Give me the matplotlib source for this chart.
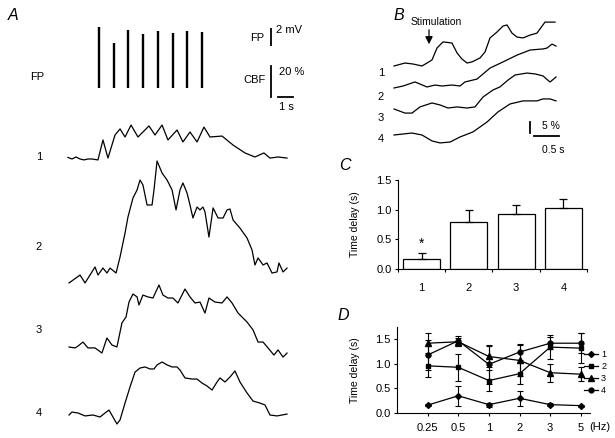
import numpy as np
import matplotlib.pyplot as plt

plt.rcParams['font.family'] = ['Liberation Sans', 'DejaVu Sans']

# ---- panel A: field potential stimuli (mV) and CBF traces (%)
fp_times = [0, 1, 2, 3, 4, 5, 6, 7]
fp_amp = [6.8, 5.0, 6.4, 6.0, 6.3, 6.1, 6.3, 6.2]

a1_t = [-2.11, -1.84, -1.56, -1.29, -1.02, -0.75, -0.48, -0.07, 0.27, 0.61, 1.09, 1.43, 1.77, 2.18, 2.65,
        3.40, 3.81, 4.29, 4.69, 5.31, 5.71, 6.19, 6.67, 7.14, 7.55, 8.37, 9.12, 9.93, 10.61, 11.22, 11.63,
        12.18, 12.79]
a1_v = [1.0, 0.0, 1.3, 0.0, -0.6, 0.0, 0.0, -0.6, 12.3, 0.6, 15.5, 19.4, 14.2, 21.9, 14.2,
        21.3, 15.5, 21.9, 12.3, 18.7, 11.0, 17.4, 11.0, 20.6, 14.2, 14.8, 9.0, 3.9, 1.3, 3.9, 0.6,
        1.3, 0.6]

a2_t = [-2.04, -1.29, -0.95, -0.27, -0.07, 0.27, 0.54, 0.75, 1.16, 1.43, 1.77, 1.97, 2.31, 2.59, 2.79,
        2.99, 3.27, 3.61, 3.74, 3.95, 4.29, 4.63, 4.97, 5.24, 5.51, 5.71, 5.99, 6.19, 6.39, 6.67,
        6.87, 7.07, 7.21, 7.48, 7.76, 8.10, 8.44, 8.71, 8.91, 9.12, 9.59, 10.07, 10.41, 10.61, 10.82,
        11.16, 11.43, 11.77, 12.11, 12.24, 12.52, 12.79]
a2_v = [-1.9, 3.2, -1.9, 8.4, 3.2, 7.7, 4.5, 7.7, 4.5, 14.8, 30.3, 40.6, 52.9, 58.1, 64.5,
        61.3, 48.4, 48.4, 58.1, 76.8, 69.0, 64.5, 58.1, 45.2, 58.1, 62.6, 56.1, 48.4, 40.0, 47.1,
        45.2, 47.1, 43.9, 27.7, 46.5, 40.0, 40.0, 45.2, 45.8, 38.7, 33.5, 27.1, 19.4, 9.7, 14.2,
        9.7, 11.0, 4.5, 5.2, 11.0, 5.2, 7.7]

a3_t = [-2.04, -1.63, -1.43, -1.09, -0.75, -0.27, 0.20, 0.54, 0.88, 1.22, 1.56, 1.84, 2.04, 2.31, 2.59,
        2.72, 2.99, 3.33, 3.67, 4.08, 4.35, 4.69, 5.03, 5.37, 5.85, 6.19, 6.53, 6.87, 7.21, 7.48,
        7.89, 8.37, 8.71, 9.05, 9.46, 10.07, 10.48, 10.82, 11.16, 11.50, 11.90, 12.18, 12.52, 12.79]
a3_v = [0.0, -0.6, 0.6, 3.2, -0.6, -0.6, -3.9, 5.8, 1.3, 0.0, 15.5, 19.4, 29.0, 34.2, 32.3,
        27.1, 33.5, 32.3, 31.6, 40.0, 33.5, 31.6, 31.6, 28.4, 37.4, 32.3, 28.4, 29.0, 21.9, 31.6,
        29.0, 28.4, 32.3, 28.4, 21.9, 16.1, 11.0, 3.2, 3.2, -0.6, -5.2, -1.9, -6.5, -3.9]

a4_t = [-2.04, -1.84, -1.43, -0.95, -0.41, 0.07, 0.41, 0.68, 0.95, 1.22, 1.43, 1.77, 2.11, 2.45, 2.79,
        3.13, 3.47, 3.74, 3.95, 4.29, 4.63, 4.97, 5.31, 5.51, 5.85, 6.33, 6.67, 7.01, 7.35, 7.69,
        8.03, 8.23, 8.57, 8.91, 9.25, 9.59, 10.07, 10.48, 10.95, 11.29, 11.63, 12.11, 12.45, 12.79]
a4_v = [0.0, 1.9, 1.3, -0.6, 0.0, -1.3, 1.3, 3.2, -1.3, -5.8, -3.2, 7.7, 18.1, 27.7, 30.3,
        31.0, 29.7, 29.7, 32.3, 34.2, 32.3, 31.0, 31.0, 29.0, 23.9, 23.2, 23.2, 20.6, 18.7, 16.1,
        21.3, 23.9, 21.3, 24.5, 28.4, 21.3, 14.2, 9.0, 7.7, 6.5, 0.0, -0.6, 0.0, 0.6]

# ---- panel B: averaged CBF onsets (%)
b1_t = [-0.70, -0.48, -0.32, -0.14, -0.04, 0.06, 0.16, 0.28, 0.46, 0.56, 0.66, 0.76, 0.86, 1.02,
        1.12, 1.22, 1.36, 1.48, 1.56, 1.66, 1.76, 1.88, 2.02, 2.16, 2.22, 2.32, 2.52]
b1_v = [-0.45, 0.9, 0.45, -0.45, 0.9, 2.3, 7.7, 10.5, 10.0, 5.5, 2.7, 0.9, 1.4, 3.2,
        5.9, 12.3, 15.0, 17.7, 18.2, 14.5, 12.7, 12.3, 13.6, 14.5, 16.4, 19.5, 19.5]
b2_t = [-0.70, -0.52, -0.28, -0.04, 0.12, 0.26, 0.46, 0.62, 0.72, 0.96, 1.22, 1.48, 1.76, 2.02,
        2.28, 2.36, 2.46, 2.54]
b2_v = [-0.45, 0.45, 2.3, 0.0, 0.9, 0.45, 0.9, 0.45, 2.3, 3.6, 8.6, 11.4, 14.5, 16.8,
        17.3, 17.7, 19.5, 18.6]
b3_t = [-0.70, -0.48, -0.34, -0.18, 0.06, 0.22, 0.38, 0.56, 0.76, 0.92, 1.08, 1.28, 1.42, 1.58,
        1.72, 1.96, 2.12, 2.28, 2.42, 2.54]
b3_v = [0.45, -1.4, -1.4, 1.4, 3.2, 2.3, 0.9, 1.4, 0.9, 1.4, 5.9, 9.1, 10.5, 13.6,
        15.9, 16.8, 16.4, 15.5, 12.7, 15.0]
b4_t = [-0.70, -0.34, -0.14, 0.06, 0.22, 0.42, 0.62, 0.88, 1.16, 1.38, 1.62, 1.88, 2.16, 2.28,
        2.42, 2.54]
b4_v = [0.0, 0.9, 0.0, -2.7, -3.6, -3.2, -0.9, 1.4, 5.9, 10.5, 14.1, 15.5, 15.5, 16.4,
        16.4, 15.5]

# ---- panel C
c_labels = ['1', '2', '3', '4']
c_mean = [0.17, 0.79, 0.92, 1.03]
c_err = [0.10, 0.20, 0.16, 0.15]

# ---- panel D
d_freq = ['0.25', '0.5', '1', '2', '3', '5']
d1 = [0.16, 0.35, 0.17, 0.30, 0.17, 0.15]
d1_err = [0.02, 0.20, 0.04, 0.15, 0.03, 0.02]
d2 = [0.96, 0.93, 0.66, 0.80, 1.34, 1.32]
d2_err = [0.22, 0.27, 0.21, 0.22, 0.24, 0.30]
d3 = [1.42, 1.45, 1.15, 1.07, 0.82, 0.79]
d3_err = [0.20, 0.08, 0.22, 0.32, 0.18, 0.14]
d4 = [1.18, 1.47, 0.99, 1.24, 1.42, 1.42]
d4_err = [0.30, 0.10, 0.40, 0.16, 0.12, 0.20]

W, H = 615, 438
fig = plt.figure(figsize=(6.15, 4.38), dpi=100)


def px_box(x0, y0, x1, y1):
    return [x0 / W, 1 - y1 / H, (x1 - x0) / W, (y1 - y0) / H]


def ftext(x, y, s, **kw):
    kw.setdefault('fontsize', 8)
    fig.text(x / W, 1 - y / H, s, ha=kw.pop('ha', 'center'), va=kw.pop('va', 'center'), **kw)


# layout of panel A (pixels): t=0 at x=99, 14.7 px/s, 1.55 px/%
AX0, ASX, ASY = 99, 14.7, 1.55
axA = fig.add_axes(px_box(0, 0, 310, H))
axA.axis('off')
axA.set_xlim(-AX0 / ASX, (310 - AX0) / ASX)
axA.set_ylim(0, H / ASY)
a_base_px = [159, 280, 347, 415]
for t, v, base in zip([a1_t, a2_t, a3_t, a4_t], [a1_v, a2_v, a3_v, a4_v], a_base_px):
    axA.plot(t, np.array(v) + (H - base) / ASY, color='k', lw=0.9)
# CBF / time scale bars
sx, sy = (271 - AX0) / ASX, (H - 97) / ASY
axA.plot([sx, sx], [sy, sy + 20], color='k', lw=1.3)
axA.plot([(278 - AX0) / ASX, (278 - AX0) / ASX + 1], [sy, sy], color='k', lw=1.3)

# FP stimuli (mV): bottom at y=88 px, 9 px/mV
axF = fig.add_axes(px_box(0, 0, 310, 100))
axF.axis('off')
axF.set_xlim(-AX0 / ASX, (310 - AX0) / ASX)
axF.set_ylim((88 - 100) / 9, 88 / 9)
axF.vlines(fp_times, 0, fp_amp, color='k', lw=1.7)
axF.vlines((271 - AX0) / ASX, (88 - 46) / 9, (88 - 46) / 9 + 2, color='k', lw=1.3)

ftext(13, 15, 'A', fontsize=11.5, style='italic')
ftext(37, 77, 'FP')
for lab, y in zip(['1', '2', '3', '4'], [157, 247, 330, 413]):
    ftext(39, y, lab)
ftext(257, 38, 'FP')
ftext(289, 30, '2 mV')
ftext(254, 80, 'CBF')
ftext(292, 72, '20 %')
ftext(286, 107, '1 s')

# ---- panel B (t=0 at x=429, 50 px/s, 2.2 px/%)
BX0, BSX, BSY = 429, 50.0, 2.2
axB = fig.add_axes(px_box(380, 0, 615, 165))
axB.axis('off')
axB.set_xlim((380 - BX0) / BSX, (615 - BX0) / BSX)
axB.set_ylim(0, 165 / BSY)
b_base_px = [65, 87, 110, 135]
for t, v, base in zip([b1_t, b2_t, b3_t, b4_t], [b1_v, b2_v, b3_v, b4_v], b_base_px):
    axB.plot(t, np.array(v) + (165 - base) / BSY, color='k', lw=0.9)
axB.annotate('', xy=(0, (165 - 47) / BSY), xytext=(0, (165 - 27) / BSY),
             arrowprops=dict(arrowstyle='-|>', color='k', lw=0.9, mutation_scale=11))
bx, by = (530 - BX0) / BSX, (165 - 133) / BSY
axB.plot([bx, bx], [by, by + 5], color='k', lw=1.3)
hx, hy = (534 - BX0) / BSX, (165 - 136) / BSY
axB.plot([hx, hx + 0.5], [hy, hy], color='k', lw=1.3)

ftext(399, 15, 'B', fontsize=11.5, style='italic')
ftext(436, 22, 'Stimulation', fontsize=7.5)
for lab, y in zip(['1', '2', '3', '4'], [73, 97, 118, 139]):
    ftext(381, y, lab)
ftext(551, 126, '5 %', fontsize=7.5)
ftext(553, 150, '0.5 s', fontsize=7.5)

# ---- panel C
axC = fig.add_axes(px_box(398, 180, 587, 269))
pos = np.arange(1, 5)
axC.bar(pos, c_mean, width=0.78, color='white', edgecolor='k', lw=0.9)
axC.errorbar(pos, c_mean, yerr=[np.zeros(4), c_err], fmt='none', ecolor='k',
             elinewidth=0.9, capsize=3, capthick=0.9)
axC.text(1, c_mean[0] + c_err[0] + 0.04, '*', ha='center', va='bottom', fontsize=10)
axC.set_xlim(0.5, 4.5)
axC.set_ylim(0, 1.5)
axC.set_xticks(pos)
axC.set_xticklabels(c_labels)
axC.set_xticks(np.arange(0.5, 4.6, 1), minor=True)
axC.tick_params(axis='x', which='major', length=0, pad=10, labelsize=8)
axC.tick_params(axis='x', which='minor', length=2.5, width=0.8, direction='out')
axC.set_yticks([0, 0.5, 1.0, 1.5])
axC.set_yticklabels(['0.0', '0.5', '1.0', '1.5'])
axC.tick_params(axis='y', length=2.5, width=0.8, pad=2, labelsize=8)
axC.set_ylabel('Time delay (s)', fontsize=7.5)
axC.yaxis.set_label_coords(-0.2, 0.5)
for s in ['top', 'right']:
    axC.spines[s].set_visible(False)
for s in ['left', 'bottom']:
    axC.spines[s].set_linewidth(0.8)
ftext(345, 165, 'C', fontsize=11.5, style='italic')

# ---- panel D
axD = fig.add_axes(px_box(397, 327, 590, 413))
xi = np.arange(len(d_freq))
styles = [('1', d1, d1_err, 'D', 3), ('2', d2, d2_err, 's', 3.5),
          ('3', d3, d3_err, '^', 4), ('4', d4, d4_err, 'o', 3.5)]
for lab, y, e, m, ms in styles:
    axD.errorbar(xi, y, yerr=e, color='k', lw=0.9, marker=m, ms=ms, elinewidth=0.8,
                 capsize=2.5, capthick=0.8, label=lab)
axD.set_xlim(-1.0, 5.3)
axD.set_ylim(0, 1.75)
axD.set_xticks(xi)
axD.set_xticklabels(d_freq)
axD.tick_params(axis='x', length=2, width=0.8, pad=5, labelsize=8)
axD.set_yticks([0, 0.5, 1.0, 1.5])
axD.set_yticklabels(['0.0', '0.5', '1.0', '1.5'])
axD.tick_params(axis='y', length=2.5, width=0.8, pad=2, labelsize=8)
axD.set_ylabel('Time delay (s)', fontsize=7.5)
axD.yaxis.set_label_coords(-0.19, 0.5)
for s in ['top', 'right']:
    axD.spines[s].set_visible(False)
for s in ['left', 'bottom']:
    axD.spines[s].set_linewidth(0.8)
handles, labels = axD.get_legend_handles_labels()
handles = [h[0] for h in handles]
fig.legend(handles, labels, loc='upper left', bbox_to_anchor=(584 / W, 1 - 350 / H),
           frameon=False, fontsize=6.5, handlelength=1.6, handletextpad=0.3,
           labelspacing=0.35, borderpad=0, borderaxespad=0)
ftext(343, 315, 'D', fontsize=11.5, style='italic')
ftext(600, 427, '(Hz)', fontsize=8)

fig.savefig('out.png', dpi=100)
